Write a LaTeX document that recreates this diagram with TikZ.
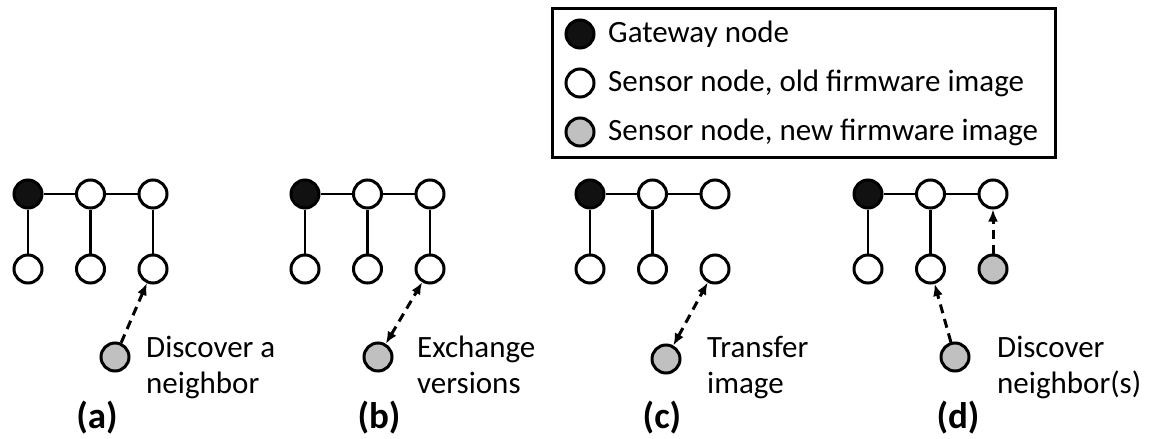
\documentclass[tikz,border=0pt]{standalone}
\usepackage{fontspec}
\setmainfont{Carlito}
\usetikzlibrary{calc, arrows.meta}
\definecolor{newgray}{HTML}{C0C0C0}
\definecolor{gwblack}{HTML}{111111}

\tikzset{
	>={Latex[length=12pt, width=10pt]},
	sensor/.style={circle, draw, line width=3pt, minimum size=28pt, inner sep=0pt},
	gwnode/.style={sensor, fill=gwblack},
	oldnode/.style={sensor, fill=white},
	newnode/.style={sensor, fill=newgray},
	link/.style={line width=2.5pt},
	msg/.style={line width=3pt, dash pattern=on 9pt off 6pt, ->},
	caption/.style={anchor=north west, align=left, inner sep=0pt, font=\fontsize{31}{36}\selectfont},
	legtext/.style={anchor=base west, inner sep=0pt, font=\fontsize{31}{33}\selectfont},
	tag/.style={inner sep=0pt, font=\fontsize{37}{40}\selectfont\bfseries}
}

\begin{document}
\begin{tikzpicture}[x=1pt, y=-1pt]
	\useasboundingbox (0,0) rectangle (1154,439);

	% legend
	\draw[line width=3pt] (552,8) rectangle (1055,157);
	\node[gwnode] (lgw) at (580,34) {};
	\node[oldnode] (lold) at (580,83) {};
	\node[newnode] (lnew) at (580,132) {};
	\node[legtext] (tgw) at (608,42) {Gateway node};
	\node[legtext] (told) at (608,91) {Sensor node, old firmware image};
	\node[legtext] (tnew) at (608,140) {Sensor node, new firmware image};

	% the part of the network that is the same in all four panels
	\foreach \p/\x in {a/28, b/305, c/590, d/868} {
		\node[gwnode] (g\p) at (\x,194) {};
		\node[oldnode] (t\p2) at (\x+62.5,194) {};
		\node[oldnode] (t\p3) at (\x+125,194) {};
		\node[oldnode] (b\p1) at (\x,269) {};
		\node[oldnode] (b\p2) at (\x+62.5,269) {};
		\draw[link] (g\p) -- (t\p2) -- (t\p3);
		\draw[link] (g\p) -- (b\p1);
		\draw[link] (t\p2) -- (b\p2);
	}

	% (a)
	\node[oldnode] (ba3) at (153,269) {};
	\draw[link] (ta3) -- (ba3);
	\node[newnode] (na) at (115,357) {};
	\draw[msg] (na) -- (ba3);
	\node[caption] (ca) at (146,336) {Discover a\\neighbor};
	\node[tag] (la) at (97,418) {(a)};

	% (b)
	\node[oldnode] (bb3) at (430,269) {};
	\draw[link] (tb3) -- (bb3);
	\node[newnode] (nb) at (378,357) {};
	\draw[msg, <->] (nb) -- (bb3);
	\node[caption] (cb) at (417,336) {Exchange\\versions};
	\node[tag] (lb) at (379,418) {(b)};

	% (c)
	\node[oldnode] (bc3) at (715,269) {};
	\node[newnode] (nc) at (666,359) {};
	\draw[msg, <->] (nc) -- (bc3);
	\node[caption] (cc) at (707,336) {Transfer\\image};
	\node[tag] (lc) at (662,418) {(c)};

	% (d)
	\node[newnode] (bd3) at (993,269) {};
	\draw[msg] (bd3) -- (td3);
	\node[newnode] (nd) at (955,357) {};
	\draw[msg] (nd) -- (bd2);
	\node[caption] (cd) at (997,336) {Discover\\neighbor(s)};
	\node[tag] (ld) at (958,418) {(d)};
\end{tikzpicture}
\end{document}
